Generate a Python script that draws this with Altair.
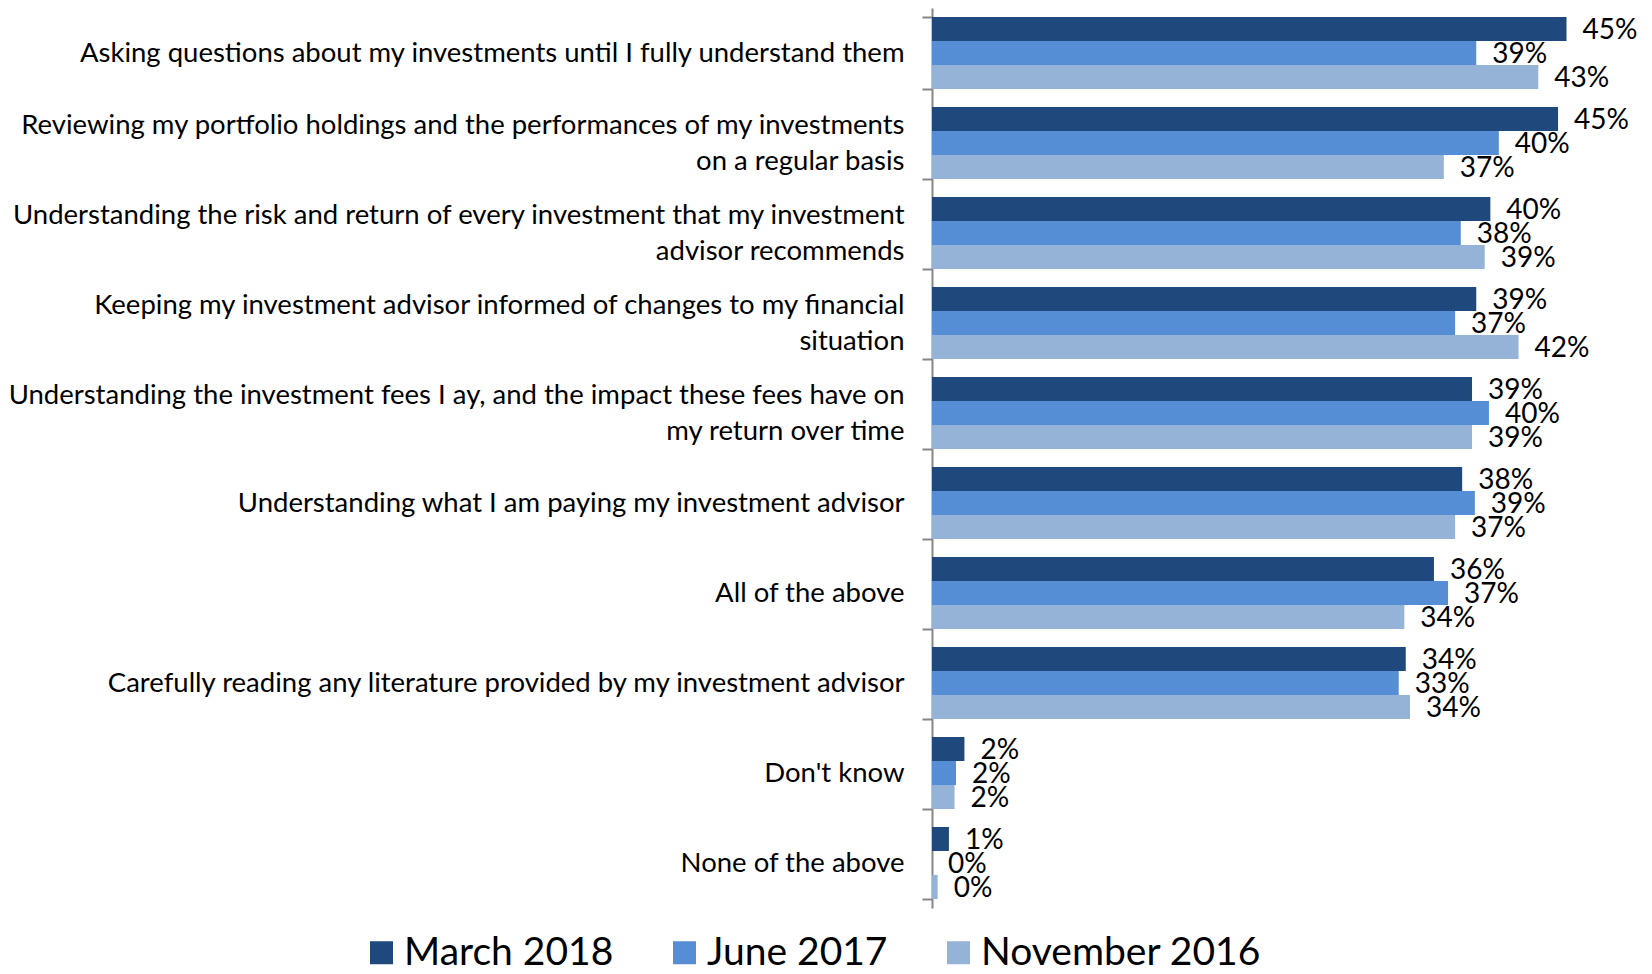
import altair as alt
import pandas as pd

categories = [
    "Asking questions about my investments until I fully understand them",
    "Reviewing my portfolio holdings and the performances of my investments|on a regular basis",
    "Understanding the risk and return of every investment that my investment|advisor recommends",
    "Keeping my investment advisor informed of changes to my financial|situation",
    "Understanding the investment fees I ay, and the impact these fees have on|my return over time",
    "Understanding what I am paying my investment advisor",
    "All of the above",
    "Carefully reading any literature provided by my investment advisor",
    "Don't know",
    "None of the above",
]
series = ["March 2018", "June 2017", "November 2016"]
colors = ["#1F497D", "#558ED5", "#95B3D7"]

march_2018 = [45.0, 44.4, 39.6, 38.6, 38.3, 37.6, 35.6, 33.6, 2.3, 1.2]
june_2017 = [38.6, 40.2, 37.5, 37.1, 39.5, 38.5, 36.6, 33.1, 1.7, 0.0]
november_2016 = [43.0, 36.3, 39.2, 41.6, 38.3, 37.1, 33.5, 33.9, 1.6, 0.4]

march_labels = ["45%", "45%", "40%", "39%", "39%", "38%", "36%", "34%", "2%", "1%"]
june_labels = ["39%", "40%", "38%", "37%", "40%", "39%", "37%", "33%", "2%", "0%"]
november_labels = ["43%", "37%", "39%", "42%", "39%", "37%", "34%", "34%", "2%", "0%"]

rows = []
for s, vals, labs in zip(series, [march_2018, june_2017, november_2016],
                         [march_labels, june_labels, november_labels]):
    for c, v, l in zip(categories, vals, labs):
        rows.append({"category": c, "series": s, "value": v, "label": l})
df = pd.DataFrame(rows)

FONT = "Lato"

y_enc = alt.Y(
    "category:N",
    sort=categories,
    scale=alt.Scale(paddingInner=0.2, paddingOuter=0.1),
    axis=alt.Axis(
        title=None,
        labelExpr="split(datum.label, '|')",
        labelFont=FONT,
        labelFontSize=27.5,
        labelColor="#000000",
        labelLineHeight=36,
        labelLimit=1000,
        labelPadding=18,
        labelOffset={"condition": {"test": "indexof(datum.label, '|') >= 0", "value": -18}, "value": 0},
        tickBand="extent",
        tickSize=10,
        tickWidth=2,
        tickColor="#868686",
        domainColor="#868686",
        domainWidth=2,
        grid=False,
    ),
)
yoff = alt.YOffset("series:N", sort=series, scale=alt.Scale(domain=series))
x_enc = alt.X("value:Q", scale=alt.Scale(domain=[0, 50], nice=False, zero=True), axis=None)

bars = alt.Chart(df).mark_bar().encode(
    x=x_enc,
    y=y_enc,
    yOffset=yoff,
    color=alt.Color(
        "series:N",
        sort=series,
        scale=alt.Scale(domain=series, range=colors),
        legend=alt.Legend(
            title=None,
            orient="none",
            direction="horizontal",
            legendX=-570,
            legendY=925,
            symbolType="square",
            symbolSize=529,
            symbolStrokeWidth=0,
            labelFont=FONT,
            labelFontSize=39,
            labelColor="#000000",
            labelOffset=3,
            columnPadding=51,
            labelLimit=1000,
        ),
    ),
)

text = alt.Chart(df).mark_text(
    align="left", baseline="middle", dx=16, dy=2, font=FONT, fontSize=28, color="#000000"
).encode(
    x=x_enc,
    y=alt.Y("category:N", sort=categories),
    yOffset=yoff,
    text="label:N",
)

chart = (
    alt.layer(bars, text)
    .properties(
        width=705,
        height=900,
        autosize=alt.AutoSizeParams(type="none"),
        padding={"left": 924, "top": 0, "right": 7, "bottom": 64},
    )
    .configure_view(stroke=None)
)

chart.save("out.html", embed_options={"renderer": "svg", "actions": False})
